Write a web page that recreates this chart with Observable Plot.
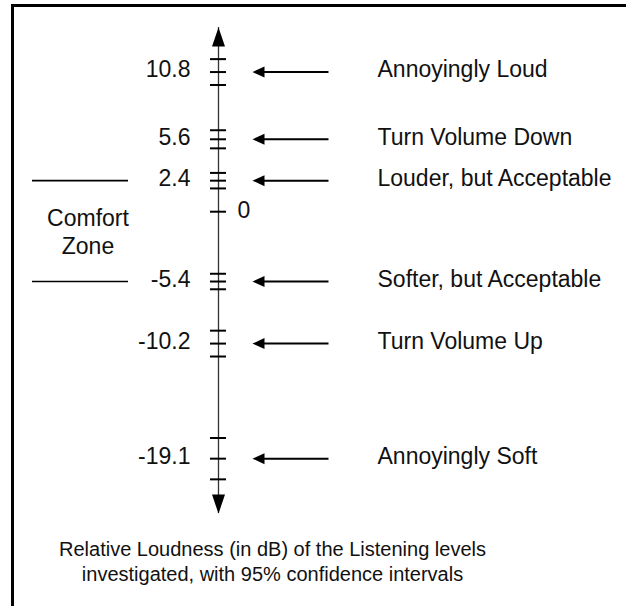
<!DOCTYPE html>
<html>
<head>
<meta charset="utf-8">
<script src="https://cdn.jsdelivr.net/npm/d3@7"></script>
<script src="https://cdn.jsdelivr.net/npm/@observablehq/plot@0.6"></script>
<style>
  html, body { margin: 0; padding: 0; background: #fff; }
  #wrap { position: relative; width: 626px; height: 606px; overflow: hidden; font-family: "Liberation Sans", Arial, sans-serif; }
  #frame { position: absolute; left: 11px; top: 4px; width: 800px; height: 800px; border-left: 3px solid #000; border-top: 3px solid #000; pointer-events: none; }
  #caption { position: absolute; left: 0; width: 545px; top: 537px; text-align: center; font-size: 20px; line-height: 25px; color: #111; white-space: nowrap; }
  #chart { position: absolute; left: 0; top: 0; }
</style>
</head>
<body>
<div id="wrap">
  <div id="chart"></div>
  <div id="frame"></div>
  <div id="caption"></div>
</div>
<script>
// ---- data ----
const levels = ["Annoyingly Loud", "Turn Volume Down", "Louder, but Acceptable", "Softer, but Acceptable", "Turn Volume Up", "Annoyingly Soft"];
const means = [10.8, 5.6, 2.4, -5.4, -10.2, -19.1];
const ciHalf = [1.0, 0.7, 0.6, 0.6, 1.0, 1.6];
const meanLabels = ["10.8", "5.6", "2.4", "-5.4", "-10.2", "-19.1"];
const zeroTick = [0];
const zeroLabel = ["0"];
const comfortBounds = [2.4, -5.4];
const comfortText = "Comfort\nZone";
const captionLines = ["Relative Loudness (in dB) of the Listening levels", "investigated, with 95% confidence intervals"];

// ---- layout constants ----
const axisX = 218, tickHalf = 8;
const axisTop = 14.25, axisBottom = -23.35;
const labelEndX = 190, zeroLabelX = 237;
const arrowTailX = 328, arrowTipX = 252;
const textX = 377;
const comfortX1 = 32, comfortX2 = 128, comfortTextX = 87.5;

// custom filled arrowhead symbols (tip at origin)
function head(dx, dy, len, half) {
  return {
    draw(ctx) {
      const bx = dx * len, by = dy * len;
      ctx.moveTo(0, 0);
      ctx.lineTo(bx - dy * half, by + dx * half);
      ctx.lineTo(bx + dy * half, by - dx * half);
      ctx.closePath();
    }
  };
}
const headLeft = head(1, 0, 12, 5.5);   // tip points left
const headUp = head(0, 1, 19, 6.5);     // tip points up
const headDown = head(0, -1, 19, 6.5);  // tip points down

const rows = levels.map((l, i) => ({level: l, mean: means[i], ci: ciHalf[i], label: meanLabels[i]}));
const ticks = rows.flatMap(r => [r.mean - r.ci, r.mean, r.mean + r.ci]).concat(zeroTick);

const fontFamily = "'Liberation Sans', Arial, sans-serif";

const chart = Plot.plot({
  width: 626,
  height: 606,
  margin: 0,
  style: {fontFamily, fontSize: "23px", background: "transparent", color: "#111"},
  x: {domain: [0, 626], range: [0, 626], axis: null},
  y: {domain: [-20, 12], range: [211.2 + 20 * 12.93, 211.2 - 12 * 12.93], axis: null},
  marks: [
    Plot.ruleX([axisX], {y1: axisTop, y2: axisBottom, stroke: "#333", strokeWidth: 1.3}),
    Plot.dot([axisTop], {x: axisX, y: d => d, symbol: headUp, fill: "#000", stroke: "none"}),
    Plot.dot([axisBottom], {x: axisX, y: d => d, symbol: headDown, fill: "#000", stroke: "none"}),
    Plot.ruleY(ticks, {y: d => d, x1: axisX - tickHalf, x2: axisX + tickHalf, stroke: "#000", strokeWidth: 2}),
    Plot.text(rows, {x: labelEndX, y: "mean", text: "label", textAnchor: "end", dy: -2, fontSize: 23, fill: "#111"}),
    Plot.text(zeroTick, {x: zeroLabelX, y: d => d, text: () => zeroLabel[0], textAnchor: "start", dy: -1, fontSize: 23, fill: "#111"}),
    Plot.link(rows, {x1: arrowTailX, x2: arrowTipX + 8, y1: "mean", y2: "mean", stroke: "#000", strokeWidth: 2}),
    Plot.dot(rows, {x: arrowTipX, y: "mean", symbol: headLeft, fill: "#000", stroke: "none"}),
    Plot.text(rows, {x: textX, y: "mean", text: "level", textAnchor: "start", dy: -2, fontSize: 23, fill: "#111"}),
    Plot.ruleY(comfortBounds, {y: d => d, x1: comfortX1, x2: comfortX2, stroke: "#000", strokeWidth: 1.6}),
    Plot.text([d3.mean(comfortBounds)], {x: comfortTextX, y: d => d, text: () => comfortText, textAnchor: "middle", lineHeight: 1.22, fontSize: 23, fill: "#111"})
  ]
});
document.getElementById("chart").appendChild(chart);
document.getElementById("caption").innerHTML = captionLines.map(s => `<div>${s}</div>`).join("");
</script>
</body>
</html>
